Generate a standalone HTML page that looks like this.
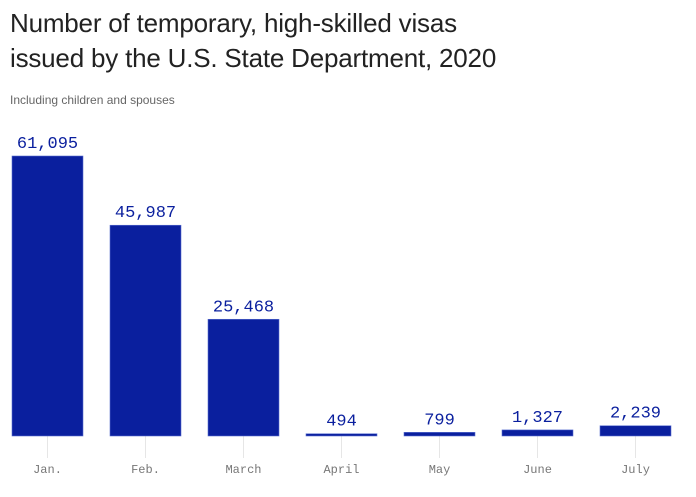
<!DOCTYPE html>
<html><head><meta charset="utf-8"><style>
body{margin:0;background:#fff;width:696px;height:497px;overflow:hidden;font-family:"Liberation Sans",sans-serif}
h1{position:absolute;left:10px;top:6px;margin:0;font-weight:400;font-size:26px;line-height:35px;color:#222;letter-spacing:-0.2px}
.sub{position:absolute;left:10px;top:93px;font-size:12px;color:#666}
svg{position:absolute;left:0;top:0}
</style></head><body>
<h1>Number of temporary, high-skilled visas<br>issued by the U.S. State Department, 2020</h1>
<div class="sub">Including children and spouses</div>
<svg id="c" width="696" height="497"></svg>
<script>
const categories=["Jan.","Feb.","March","April","May","June","July"];
const values=[61095,45987,25468,494,799,1327,2239];
const labels=["61,095","45,987","25,468","494","799","1,327","2,239"];
const svg=document.getElementById('c');
const NS='http://www.w3.org/2000/svg';
const base=436, top0=156, maxV=61095;
const y=v=>base-(v/maxV)*(base-top0);
const x0=12, step=98, bw=71;
const x=i=>x0+i*step;
categories.forEach((c,i)=>{
  const cx=x(i)+bw/2;
  const t=document.createElementNS(NS,'line');
  t.setAttribute('x1',cx);t.setAttribute('x2',cx);t.setAttribute('y1',base);t.setAttribute('y2',458);
  t.setAttribute('stroke','#e6e6e6');t.setAttribute('stroke-width','1');
  
  
  svg.appendChild(t);
  const r=document.createElementNS(NS,'rect');
  const yy=y(values[i]);
  r.setAttribute('x',x(i));r.setAttribute('y',yy);r.setAttribute('width',bw);r.setAttribute('height',Math.max(base-yy,2));
  r.setAttribute('fill','#0a1f9e');r.setAttribute('stroke','#5a6fd0');r.setAttribute('stroke-width','0.6');
  
  
  svg.appendChild(r);
  const v=document.createElementNS(NS,'text');
  v.setAttribute('x',cx);v.setAttribute('y',Math.min(yy,base-2)-8);v.setAttribute('text-anchor','middle');
  v.setAttribute('font-family','Liberation Mono, monospace');v.setAttribute('font-size','17');v.setAttribute('fill','#0a1f9e');
  v.textContent=labels[i];
  
  
  svg.appendChild(v);
  const l=document.createElementNS(NS,'text');
  l.setAttribute('x',cx);l.setAttribute('y',473);l.setAttribute('text-anchor','middle');
  l.setAttribute('font-family','Liberation Mono, monospace');l.setAttribute('font-size','12');l.setAttribute('fill','#777');
  l.textContent=c;
  
  
  svg.appendChild(l);
});
</script>
</body></html>
